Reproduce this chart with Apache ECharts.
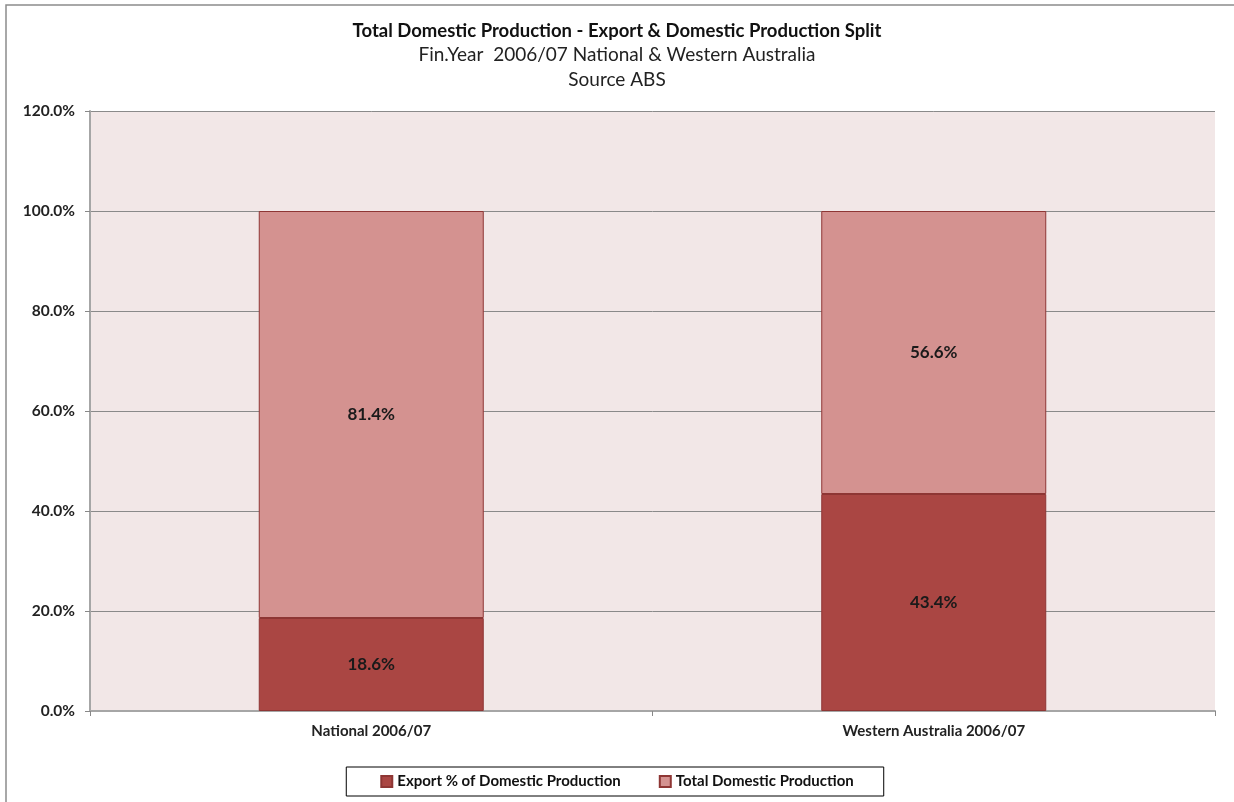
<!DOCTYPE html>
<html>
<head>
<meta charset="utf-8">
<script src="https://cdn.jsdelivr.net/npm/echarts@6/dist/echarts.min.js"></script>
<style>html,body{margin:0;padding:0;background:#fff}#c{width:1234px;height:802px}</style>
</head>
<body>
<div id="c"></div>
<script>
const categories = ['National 2006/07', 'Western Australia 2006/07'];
const exportShare = [18.6, 43.4];
const domesticShare = [81.4, 56.6];
const seriesNames = ['Export % of Domestic Production', 'Total Domestic Production'];
const titleText = 'Total Domestic Production - Export & Domestic Production Split';
const subtitleText = 'Fin.Year  2006/07 National & Western Australia\nSource ABS';

const FONT = 'Lato, "Open Sans", sans-serif';
const chart = echarts.init(document.getElementById('c'), null, {renderer: 'canvas'});
chart.setOption({
  backgroundColor: '#fff',
  animation: false,
  graphic: [{
    type: 'rect', shape: {x: 6, y: 5, width: 1240, height: 810},
    style: {fill: 'none', stroke: '#8c8c8c', lineWidth: 1.5}, silent: true
  }],
  title: {
    text: titleText,
    subtext: subtitleText,
    left: 'center', top: 17,
    itemGap: 1,
    textStyle: {fontFamily: FONT, fontSize: 18.5, fontWeight: 'bold', color: '#111'},
    subtextStyle: {fontFamily: FONT, fontSize: 19, color: '#222', lineHeight: 25}
  },
  legend: {
    bottom: 6, left: 'center',
    data: seriesNames,
    icon: 'rect',
    itemWidth: 11, itemHeight: 11, itemGap: 38,
    padding: [7, 30, 7, 34],
    borderColor: '#000', borderWidth: 1,
    textStyle: {fontFamily: FONT, fontSize: 15, fontWeight: 'bold', color: '#111'}
  },
  grid: {left: 90, right: 19, top: 111, bottom: 91, containLabel: false,
         show: true, backgroundColor: '#f2e7e7', borderWidth: 0},
  xAxis: {
    type: 'category', data: categories,
    axisLine: {lineStyle: {color: '#a6a6a6', width: 2}},
    axisTick: {show: true, length: 5, lineStyle: {color: '#888'}},
    axisLabel: {fontFamily: FONT, fontSize: 15, fontWeight: 'bold', color: '#222', margin: 13}
  },
  yAxis: {
    type: 'value', min: 0, max: 120, interval: 20,
    axisLine: {show: true, lineStyle: {color: '#a6a6a6', width: 2}},
    axisTick: {show: true, length: 5, lineStyle: {color: '#888'}},
    splitLine: {lineStyle: {color: '#8a8a8a', width: 1}},
    axisLabel: {fontFamily: FONT, fontSize: 15.5, fontWeight: 'bold', color: '#222', margin: 15,
                formatter: v => v.toFixed(1) + '%'}
  },
  series: [
    {
      name: seriesNames[0], type: 'bar', stack: 's', barWidth: '40%',
      data: exportShare,
      itemStyle: {color: '#aa4643', borderColor: '#8e3634', borderWidth: 1},
      label: {show: true, position: 'inside', formatter: p => p.value.toFixed(1) + '%',
              fontFamily: FONT, fontSize: 17, fontWeight: 'bold', color: '#1a1a1a'}
    },
    {
      name: seriesNames[1], type: 'bar', stack: 's', barWidth: '40%',
      data: domesticShare,
      itemStyle: {color: '#d49290', borderColor: '#8e3634', borderWidth: 1},
      label: {show: true, position: 'inside', formatter: p => p.value.toFixed(1) + '%',
              fontFamily: FONT, fontSize: 17, fontWeight: 'bold', color: '#1a1a1a'}
    }
  ]
});
</script>
</body>
</html>
